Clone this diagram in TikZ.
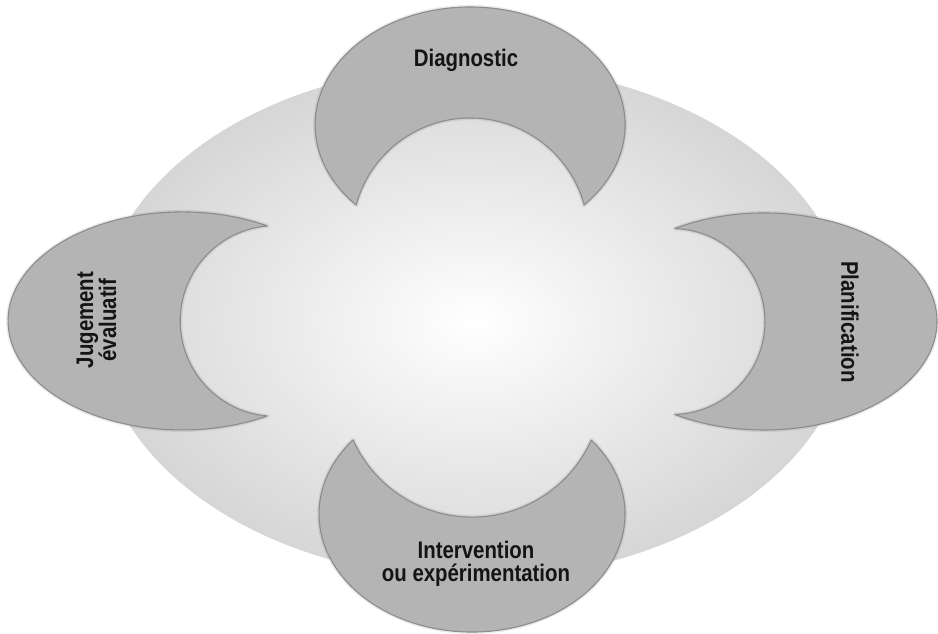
\documentclass[tikz,border=0pt]{standalone}
\usepackage{fontspec}
\setmainfont{Liberation Sans}[FakeStretch=0.85]
\definecolor{cresfill}{RGB}{180,180,180}
\definecolor{cresedge}{RGB}{140,140,140}
\definecolor{ellout}{RGB}{214,214,214}
\definecolor{txt}{RGB}{20,20,20}
\tikzset{
  cres/.style={fill=cresfill, draw=cresedge, line width=1.1pt, line join=round},
  cresshadow/.style={draw=black, draw opacity=0.08, line width=4pt, line join=round},
  lbl/.style={font=\fontsize{24}{23}\selectfont\bfseries, text=txt, align=center, inner sep=0pt}
}
\begin{document}
\begin{tikzpicture}[x=1pt,y=1pt]
\useasboundingbox (0,0) rectangle (938,634);
\fill[white] (0,0) rectangle (938,634);
% background ellipse
\shade[inner color=white, outer color=ellout] (474,312) ellipse[x radius=376pt, y radius=257pt];
\def\topcres{(584,429) arc[start angle=-42.7, end angle=222.7, x radius=155pt, y radius=118pt] arc[start angle=164.7, end angle=15.3, radius=118.2pt] -- cycle}
\def\botcres{(352.8,193.9) arc[start angle=141.2, end angle=398.8, x radius=153pt, y radius=118pt] arc[start angle=-24.2, end angle=-155.8, radius=130.5pt] -- cycle}
\def\leftcres{(267.2,408.1) arc[start angle=60.7, end angle=299.3, x radius=174pt, y radius=109pt] arc[start angle=264.95, end angle=95.05, radius=95.4pt] -- cycle}
\def\rightcres{(674.9,405.5) arc[start angle=121, end angle=-121, x radius=173pt, y radius=108.5pt] arc[start angle=-88.2, end angle=88.2, radius=93pt] -- cycle}
\foreach \c in {\topcres,\botcres,\leftcres,\rightcres}{
  \path[cresshadow] \c;
  \path[cres] \c;
}
\node[lbl] (diag) at (466,574) {Diagnostic};
\node[lbl] (plan) at (850,312) [rotate=-90] {Planification};
\node[lbl] (interv) at (476,70.5) {Intervention\\ou expérimentation};
\node[lbl] (juge) at (96.5,314) [rotate=90] {Jugement\\évaluatif};
\end{tikzpicture}
\end{document}
